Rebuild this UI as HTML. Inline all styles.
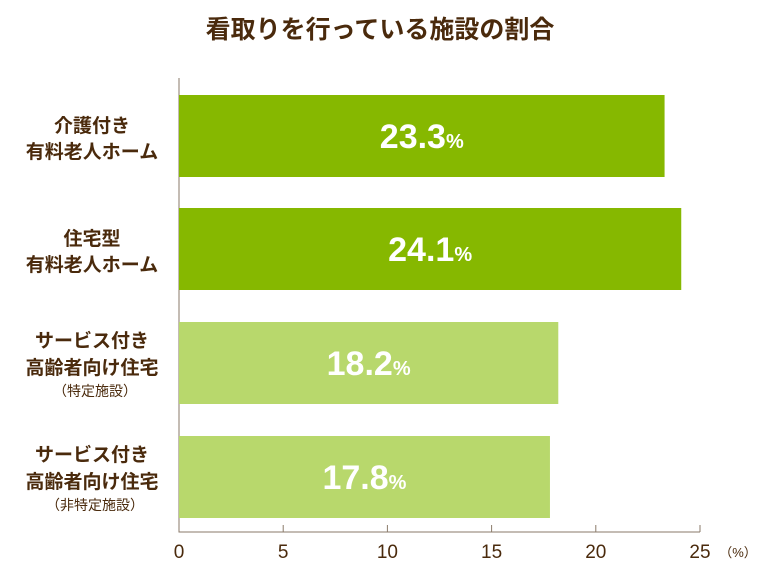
<!DOCTYPE html>
<html><head><meta charset="utf-8"><style>
body{margin:0;background:#fff;}
svg{display:block;font-family:"Liberation Sans","Noto Sans CJK JP",sans-serif;}
</style></head><body>
<svg id="c" width="760" height="570">
<text x="380" y="38" text-anchor="middle" font-size="25" font-weight="bold" fill="#4a2a0c">看取りを行っている施設の割合</text>
</svg>
<script>
const categories=[["介護付き","有料老人ホーム"],["住宅型","有料老人ホーム"],["サービス付き","高齢者向け住宅","（特定施設）"],["サービス付き","高齢者向け住宅","（非特定施設）"]];
const values=[23.3,24.1,18.2,17.8];
const colors=["#86b800","#86b800","#b8d86c","#b8d86c"];
const ticks=[0,5,10,15,20,25];
const svg=document.getElementById('c');
const NS="http://www.w3.org/2000/svg";
const x0=179,x1=700,vmax=25;
const X=v=>x0+(x1-x0)*v/vmax;
const bandTop=[95,208,322,436],bandH=82;
function mk(t,a){const e=document.createElementNS(NS,t);for(const k in a)e.setAttribute(k,a[k]);svg.appendChild(e);return e;}
const axis=mk('path',{d:`M${x0} 78V532H${x1}`,stroke:'#8a7a6a','stroke-width':1,fill:'none'});


ticks.forEach(t=>{
 const l=mk('line',{x1:X(t),x2:X(t),y1:525,y2:532,stroke:'#8a7a6a'});
 
 
 const tx=mk('text',{x:X(t),y:558,'text-anchor':'middle','font-size':19,fill:'#4a2a0c'});
 tx.textContent=t;
 
 
});
const u=mk('text',{x:738,y:557,'text-anchor':'middle','font-size':13,fill:'#4a2a0c'});
u.textContent='（%）';


values.forEach((v,i)=>{
 const y=bandTop[i];
 const r=mk('rect',{x:x0,y:y,width:X(v)-x0,height:bandH,fill:colors[i]});
 
 
 const t=mk('text',{x:(x0+X(v))/2,y:y+bandH/2+12,'text-anchor':'middle',fill:'#fff','font-weight':'bold','font-size':34});
 t.innerHTML=v.toFixed(1)+'<tspan font-size="20">%</tspan>';
 
 
 const lines=categories[i];
 const n=lines.length;
 const startY=y+bandH/2-(n===2?4:16);
 lines.forEach((s,j)=>{
  const small=j===2;
  const c=mk('text',{x:small?95:92,y:startY+j*(n===2?26:27)-(small?5:0),'text-anchor':'middle','font-size':small?14:19,'font-weight':small?'normal':'bold',fill:'#4a2a0c'});
  c.textContent=s;
  
  
 });
});
</script>
</body></html>
